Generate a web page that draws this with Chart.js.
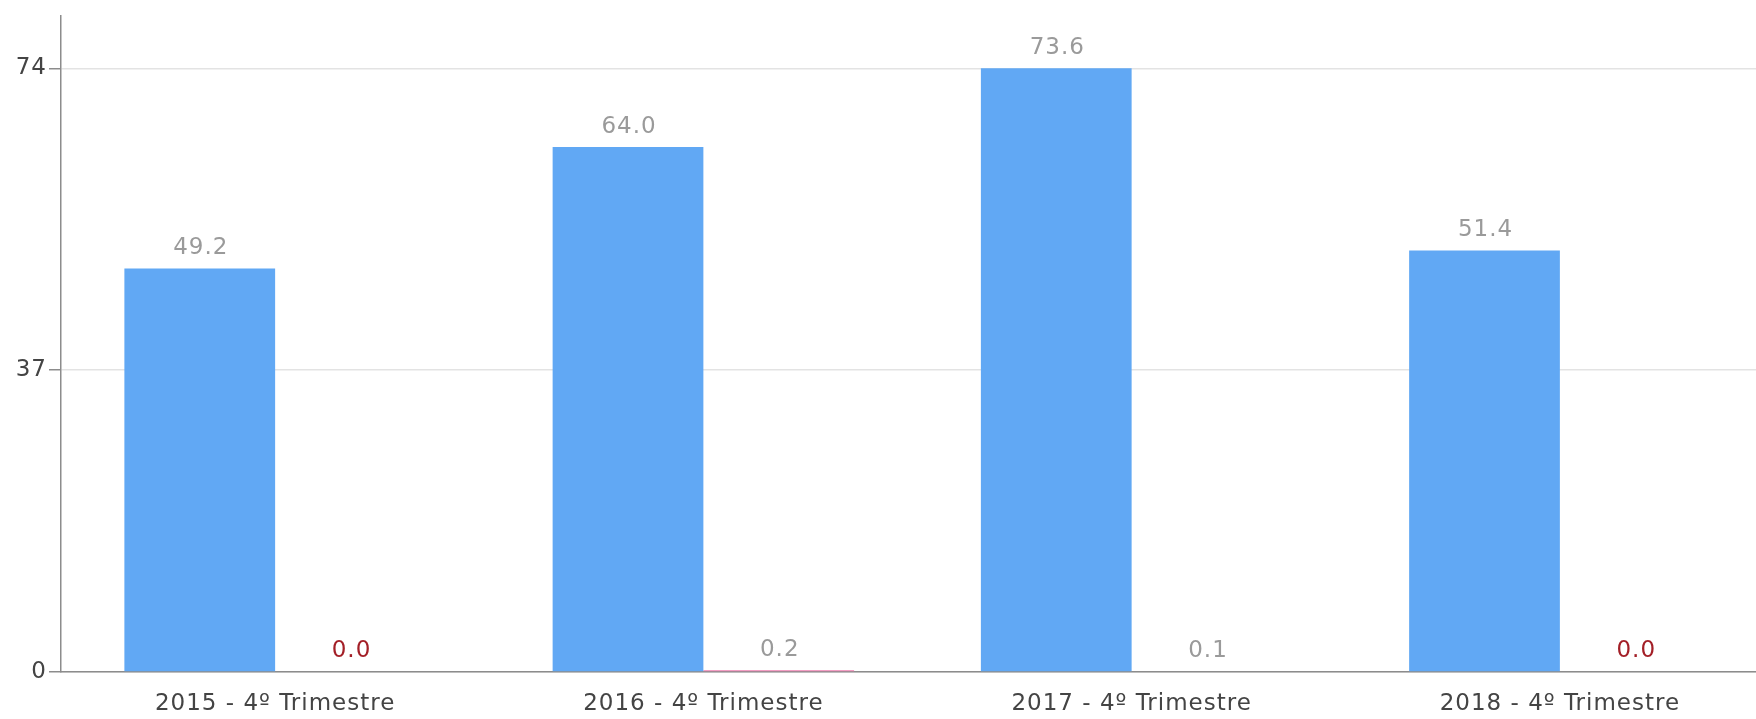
<!DOCTYPE html>
<html>
<head>
<meta charset="utf-8">
<script src="https://cdn.jsdelivr.net/npm/chart.js@4.4.1/dist/chart.umd.min.js"></script>
<style>
  html, body { margin: 0; padding: 0; background: #fff; overflow: hidden; }
  #wrap { width: 1774px; height: 719px; position: relative; }
</style>
</head>
<body>
<div id="wrap"><canvas id="myChart"></canvas></div>
<script>
// datos del gráfico
const categorias = ['2015 - 4º Trimestre', '2016 - 4º Trimestre', '2017 - 4º Trimestre', '2018 - 4º Trimestre'];
const serieAzul = [49.2, 64.0, 73.6, 51.4];
const serieRosa = [0.0, 0.2, 0.1, 0.0];
const ticksY = [0, 36.8, 73.6];          // posiciones de las marcas
const etiquetasY = ['0', '37', '74'];   // texto mostrado en cada marca
const maxY = 80;

// espaciado de letras como en el original
const espaciado = {
    id: 'espaciado',
    beforeDraw(chart) { chart.ctx.letterSpacing = '1px'; }
};

// etiquetas de valor encima de cada barra
const valoresPlugin = {
    id: 'valores',
    afterDatasetsDraw(chart) {
        const ctx = chart.ctx;
        ctx.save();
        ctx.letterSpacing = '1px';
        ctx.font = '23px "DejaVu Sans"';
        ctx.textAlign = 'center';
        ctx.textBaseline = 'bottom';
        chart.data.datasets.forEach((ds, i) => {
            chart.getDatasetMeta(i).data.forEach((bar, j) => {
                const v = ds.data[j];
                ctx.fillStyle = v === 0 ? '#a31f27' : '#9a9a9a';
                ctx.fillText(v.toFixed(1), bar.x + 1, bar.y - 9);
            });
        });
        ctx.restore();
    }
};

function drawChart() {
    const ctx = document.getElementById('myChart').getContext('2d');
    new Chart(ctx, {
        type: 'bar',
        data: {
            labels: categorias,
            datasets: [{
                data: serieAzul,
                backgroundColor: '#61a8f4',
                barPercentage: 1,
                categoryPercentage: 0.704
            }, {
                data: serieRosa,
                backgroundColor: '#ef7caf',
                barPercentage: 1,
                categoryPercentage: 0.704
            }]
        },
        options: {
            responsive: true,
            maintainAspectRatio: false,
            animation: false,
            layout: { padding: { top: 13, right: 0, bottom: 0, left: 0 } },
            plugins: { legend: { display: false }, tooltip: { enabled: false } },
            scales: {
                x: {
                    grid: { display: true, drawOnChartArea: false, drawTicks: false },
                    border: { display: true, color: '#8c8c8c', width: 1.5 },
                    ticks: {
                        color: '#444',
                        font: { family: 'DejaVu Sans', size: 23 },
                        padding: 18,
                        maxRotation: 0
                    },
                    afterFit(scale) { scale.height = 47; }
                },
                y: {
                    min: 0,
                    max: maxY,
                    afterBuildTicks(scale) { scale.ticks = ticksY.map(v => ({ value: v })); },
                    grid: { color: '#e3e3e3', tickColor: '#8c8c8c', tickLength: 12, lineWidth: 1.5 },
                    border: { display: true, color: '#8c8c8c', width: 1.5 },
                    ticks: {
                        color: '#444',
                        font: { family: 'DejaVu Sans', size: 23 },
                        padding: 2,
                        callback: (v, i) => etiquetasY[i]
                    },
                    afterFit(scale) { scale.width = 61; }
                }
            }
        },
        plugins: [espaciado, valoresPlugin]
    });
}

drawChart();
</script>
</body>
</html>
